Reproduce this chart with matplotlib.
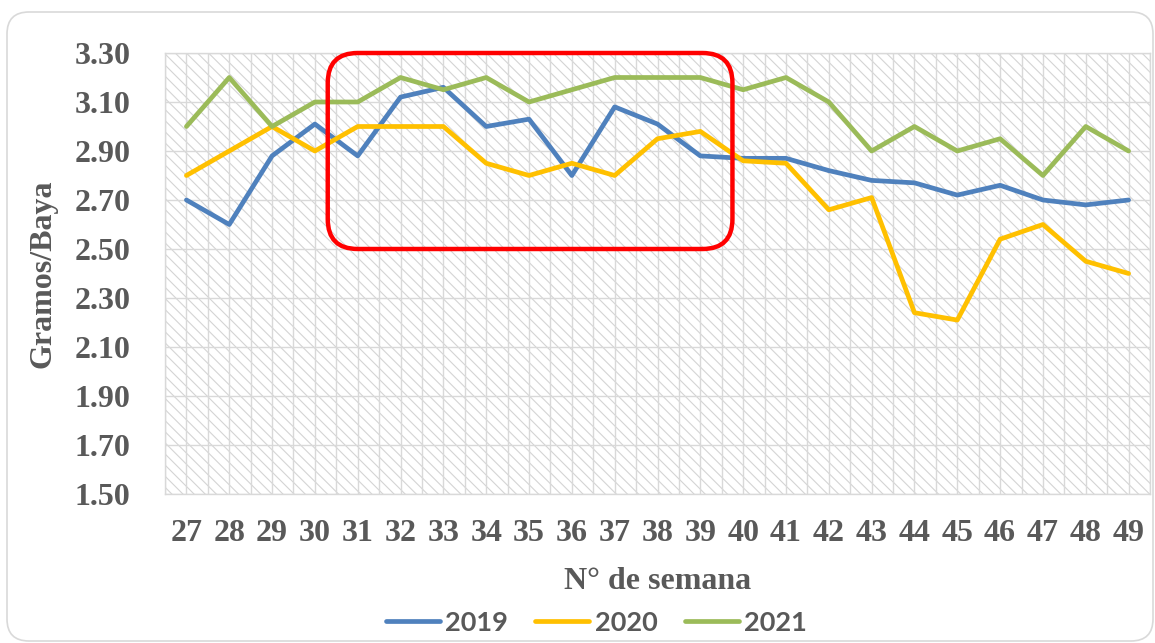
"""Berry weight per week (grams/berry) for 2019-2021 seasons."""

import matplotlib

matplotlib.use("Agg")
import matplotlib.pyplot as plt
import numpy as np
from matplotlib.patches import FancyBboxPatch, Rectangle
from matplotlib.ticker import FormatStrFormatter, MultipleLocator
from matplotlib.transforms import IdentityTransform

weeks = list(range(27, 50))
series_2019 = [2.70, 2.60, 2.88, 3.01, 2.88, 3.12, 3.16, 3.00, 3.03, 2.80, 3.08, 3.01,
               2.88, 2.87, 2.87, 2.82, 2.78, 2.77, 2.72, 2.76, 2.70, 2.68, 2.70]
series_2020 = [2.80, 2.90, 3.00, 2.90, 3.00, 3.00, 3.00, 2.85, 2.80, 2.85, 2.80, 2.95,
               2.98, 2.86, 2.85, 2.66, 2.71, 2.24, 2.21, 2.54, 2.60, 2.45, 2.40]
series_2021 = [3.00, 3.20, 3.00, 3.10, 3.10, 3.20, 3.15, 3.20, 3.10, 3.15, 3.20, 3.20,
               3.20, 3.15, 3.20, 3.10, 2.90, 3.00, 2.90, 2.95, 2.80, 3.00, 2.90]
series_labels = ["2019", "2020", "2021"]
series_colors = ["#4F81BD", "#FFC000", "#9BBB59"]

# highlighted region (weeks, grams/berry)
highlight_weeks = (30.3, 39.75)
highlight_values = (2.50, 3.30)

TEXT_COLOR = "#595959"
GRID_COLOR = "#D9D9D9"
SERIF = "Liberation Serif"

plt.rcParams["hatch.linewidth"] = 0.8

fig = plt.figure(figsize=(11.55, 6.43), dpi=100)
ax = fig.add_axes([165 / 1155, 149 / 643, 985 / 1155, 441 / 643])

# hatched plot background
ax.add_patch(Rectangle((0, 0), 1, 1, transform=ax.transAxes, facecolor="white",
                       edgecolor="#D4D4D4", hatch="\\\\\\", linewidth=0, zorder=0))

for values, label, color in zip((series_2019, series_2020, series_2021),
                                series_labels, series_colors):
    ax.plot(weeks, values, color=color, linewidth=3.4, label=label,
            solid_joinstyle="round", solid_capstyle="round", zorder=3)

ax.set_xlim(weeks[0] - 0.5, weeks[-1] + 0.5)
ax.set_ylim(1.5, 3.3)
ax.set_xticks(weeks)
ax.xaxis.set_minor_locator(MultipleLocator(0.5))
ax.set_yticks(np.arange(1.5, 3.31, 0.2))
ax.yaxis.set_major_formatter(FormatStrFormatter("%.2f"))

ax.set_axisbelow(True)
ax.grid(which="both", axis="x", color=GRID_COLOR, linewidth=1.0)
ax.grid(which="major", axis="y", color=GRID_COLOR, linewidth=1.0)
for spine in ax.spines.values():
    spine.set_color(GRID_COLOR)
    spine.set_linewidth(1.0)

ax.tick_params(which="both", length=0)
ax.tick_params(axis="y", pad=25)
ax.tick_params(axis="x", pad=18)
for tick in ax.get_xticklabels() + ax.get_yticklabels():
    tick.set_fontfamily(SERIF)
    tick.set_fontweight("bold")
    tick.set_fontsize(23)
    tick.set_color(TEXT_COLOR)

ax.set_xlabel("N° de semana", fontfamily=SERIF, fontweight="bold", fontsize=23,
              color=TEXT_COLOR, labelpad=14)
ax.set_ylabel("Gramos/Baya", fontfamily=SERIF, fontweight="bold", fontsize=23,
              color=TEXT_COLOR, labelpad=12)

leg = fig.legend(loc="center", bbox_to_anchor=(596.5 / 1155, 20.3 / 643), ncol=3,
                 frameon=False, prop={"family": "Lato", "weight": "bold", "size": 19.5},
                 labelcolor=TEXT_COLOR, handlelength=2.0, handletextpad=0.2,
                 columnspacing=1.0, borderpad=0)
for handle in leg.get_lines():
    handle.set_linewidth(3.4)

# red rounded highlight box, placed from data coordinates
(x0, y0), (x1, y1) = ax.transData.transform(
    [(highlight_weeks[0], highlight_values[0]), (highlight_weeks[1], highlight_values[1])])
fig.add_artist(FancyBboxPatch((x0, y0), x1 - x0, y1 - y0,
                              boxstyle="round,pad=0,rounding_size=30",
                              transform=IdentityTransform(), facecolor="none",
                              edgecolor="#FF0000", linewidth=3.2, zorder=5))

# light chart-area border
fig.add_artist(FancyBboxPatch((7, 2), 1146, 629,
                              boxstyle="round,pad=0,rounding_size=22",
                              transform=IdentityTransform(), facecolor="none",
                              edgecolor="#D9D9D9", linewidth=1.2, zorder=0))

fig.savefig("out.png", dpi=100)
